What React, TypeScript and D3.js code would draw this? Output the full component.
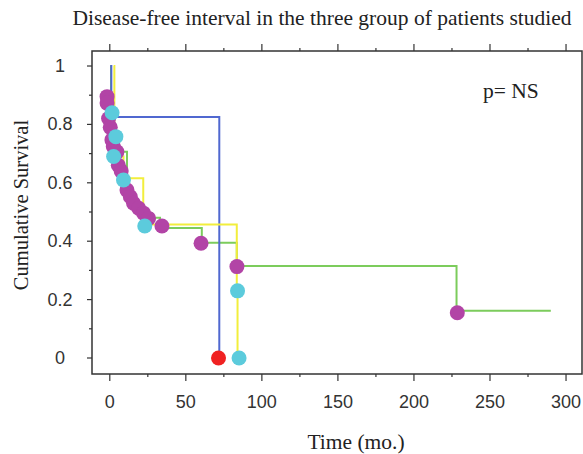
import React from 'react';
import * as d3 from 'd3';

const width = 583;
const height = 454;
const margin = { top: 51, right: 1, bottom: 80, left: 92 };

// step curves: [time (mo.), cumulative survival]
const blueSteps: [number, number][] = [[0.3, 1], [1, 0.825], [72, 0], [72, 0]];
const yellowSteps: [number, number][] = [[2.5, 1], [3, 0.69], [9, 0.616], [22, 0.457], [83.5, 0.23], [84, 0], [84, 0]];
const greenSteps: [number, number][] = [
  [0.3, 1], [0.8, 0.706], [11.3, 0.575], [13.5, 0.552], [15.6, 0.53], [19, 0.513],
  [22.2, 0.496], [27.7, 0.48], [33, 0.445], [60.5, 0.395], [83.5, 0.315], [228, 0.162], [290, 0.162]
];

// censored / event markers
const purpleDots: [number, number][] = [
  [-1.8, 0.895], [-1.8, 0.873], [-0.8, 0.82], [0.3, 0.79], [1.4, 0.747], [2.3, 0.724],
  [4.7, 0.706], [5.6, 0.66], [7.5, 0.64], [11.3, 0.575], [13.5, 0.552], [15.6, 0.53],
  [19, 0.513], [22.2, 0.496], [25.5, 0.478], [34.3, 0.452], [60, 0.393], [83.6, 0.313], [228.5, 0.155]
];
const cyanDots: [number, number][] = [
  [1.5, 0.84], [4, 0.758], [2.5, 0.69], [9, 0.61], [23, 0.452], [84, 0.23], [85, 0]
];
const redDots: [number, number][] = [[71.5, 0]];

const xMajor = [0, 50, 100, 150, 200, 250, 300];
const xMinor = [25, 75, 125, 175, 225, 275];
const yMajor = [0, 0.2, 0.4, 0.6, 0.8, 1];
const yMinor = [0.1, 0.3, 0.5, 0.7, 0.9];

const labelFont = '"Liberation Sans", Arial, sans-serif';
const serif = '"Liberation Serif", "Times New Roman", serif';

export default function App() {
  const x = d3.scaleLinear().domain([-11.7, 310.5]).range([margin.left, width - margin.right]);
  const y = d3.scaleLinear().domain([-0.0548, 1.0514]).range([height - margin.bottom, margin.top]);

  const line = d3.line<[number, number]>()
    .x(d => x(d[0]))
    .y(d => y(d[1]))
    .curve(d3.curveStepAfter);

  const x0 = margin.left;
  const x1 = width - margin.right;
  const y0 = margin.top;
  const y1 = y.range()[0];

  const dot = (d: [number, number], i: number, fill: string) => (
    <circle key={i} cx={x(d[0])} cy={y(d[1])} r={7.5} fill={fill} />
  );

  return (
    <svg width={width} height={height} style={{ position: 'absolute', left: 0, top: 0, background: '#fff' }}>
      <text x={322} y={25} textAnchor="middle" fontFamily={serif} fontSize={21.5} fill="#222">
        Disease-free interval in the three group of patients studied
      </text>

      {/* frame */}
      <rect x={x0} y={y0} width={x1 - x0} height={y1 - y0} fill="none" stroke="#333" strokeWidth={1.5} />

      {xMajor.map(t => (
        <g key={'xM' + t}>
          <line x1={x(t)} x2={x(t)} y1={y1} y2={y1 + 7} stroke="#333" strokeWidth={1.2} />
          <line x1={x(t)} x2={x(t)} y1={y0} y2={y0 - 7} stroke="#333" strokeWidth={1.2} />
          <text x={x(t)} y={408} textAnchor="middle" fontFamily={labelFont} fontSize={18} fill="#333">{t}</text>
        </g>
      ))}
      {xMinor.map(t => (
        <g key={'xm' + t}>
          <line x1={x(t)} x2={x(t)} y1={y1} y2={y1 + 3} stroke="#333" strokeWidth={1.2} />
          <line x1={x(t)} x2={x(t)} y1={y0} y2={y0 - 3} stroke="#333" strokeWidth={1.2} />
        </g>
      ))}
      {yMajor.map(v => (
        <g key={'yM' + v}>
          <line x1={x0} x2={x0 - 5} y1={y(v)} y2={y(v)} stroke="#333" strokeWidth={1.2} />
          <text x={60} y={y(v) + 6} textAnchor="middle" fontFamily={labelFont} fontSize={18} fill="#333">{v}</text>
        </g>
      ))}
      {yMinor.map(v => (
        <line key={'ym' + v} x1={x0} x2={x0 - 3} y1={y(v)} y2={y(v)} stroke="#333" strokeWidth={1.2} />
      ))}

      <text transform={`translate(28, 205) rotate(-90)`} textAnchor="middle" fontFamily={serif} fontSize={20.5} fill="#222">
        Cumulative Survival
      </text>
      <text x={356} y={449} textAnchor="middle" fontFamily={serif} fontSize={21.5} fill="#222">Time (mo.)</text>
      <text x={483} y={98} fontFamily={serif} fontSize={21.5} fill="#222">p= NS</text>

      <path d={line(greenSteps) || ''} fill="none" stroke="#7ccc5c" strokeWidth={2} />
      <path d={line(blueSteps) || ''} fill="none" stroke="#5068d0" strokeWidth={2} />
      <path d={line(yellowSteps) || ''} fill="none" stroke="#f2ee3c" strokeWidth={2} />

      {purpleDots.map((d, i) => dot(d, i, '#b244a6'))}
      {cyanDots.map((d, i) => dot(d, i, '#5ccbdc'))}
      {redDots.map((d, i) => dot(d, i, '#f02222'))}
    </svg>
  );
}
